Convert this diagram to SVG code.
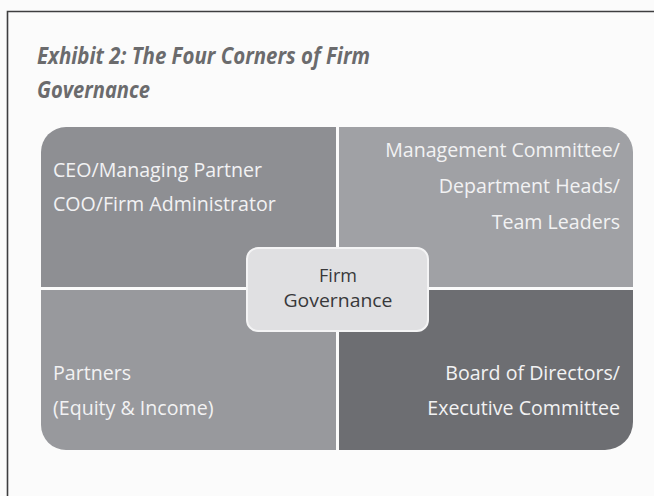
<svg xmlns="http://www.w3.org/2000/svg" width="654" height="496" viewBox="0 0 654 496">
  <style>
    .title { font-family: "Open Sans", "Liberation Sans", sans-serif; font-weight: bold; font-style: italic; font-size: 24px; fill: #6b6b6d; }
    .q { font-family: "Open Sans", "Liberation Sans", sans-serif; font-size: 19.6px; fill: #f2f2f3; }
    .r { text-anchor: end; }
    .hub { font-family: "Open Sans", "Liberation Sans", sans-serif; font-size: 18px; fill: #38383a; text-anchor: middle; }
  </style>
  <!-- page background and frame -->
  <rect x="0" y="0" width="654" height="496" fill="#fbfbfb"/>
  <path d="M7.5,496 V11.5 H654" fill="none" stroke="#3e3e40" stroke-width="1.6"/>

  <!-- heading -->
  <text class="title" x="37" y="64" textLength="333" lengthAdjust="spacingAndGlyphs">Exhibit 2: The Four Corners of Firm</text>
  <text class="title" x="37" y="98" textLength="113" lengthAdjust="spacingAndGlyphs">Governance</text>

  <!-- four quadrants -->
  <g id="ceo-coo">
    <path d="M41,287 V152 A25,25 0 0 1 66,127 H336 V287 Z" fill="#8e8f93"/>
    <text class="q" x="53" y="177">CEO/Managing Partner</text>
    <text class="q" x="53" y="211">COO/Firm Administrator</text>
  </g>
  <g id="management">
    <path d="M339,127 H608 A25,25 0 0 1 633,152 V287 H339 Z" fill="#a0a1a5"/>
    <text class="q r" x="620" y="157">Management Committee/</text>
    <text class="q r" x="620" y="193">Department Heads/</text>
    <text class="q r" x="620" y="229">Team Leaders</text>
  </g>
  <g id="partners">
    <path d="M41,290 H336 V450 H66 A25,25 0 0 1 41,425 Z" fill="#98999d"/>
    <text class="q" x="53" y="380">Partners</text>
    <text class="q" x="53" y="415">(Equity &amp; Income)</text>
  </g>
  <g id="board">
    <path d="M339,290 H633 V422 A28,28 0 0 1 605,450 H339 Z" fill="#6d6e72"/>
    <text class="q r" x="620" y="380">Board of Directors/</text>
    <text class="q r" x="620" y="415">Executive Committee</text>
  </g>

  <!-- central hub -->
  <g id="firm-governance">
    <rect x="247" y="248" width="181" height="83" rx="11" ry="11" fill="#e0e0e2" stroke="#f4f4f5" stroke-width="2"/>
    <text class="hub" x="338" y="282">Firm</text>
    <text class="hub" x="338" y="307" textLength="109" lengthAdjust="spacingAndGlyphs">Governance</text>
  </g>

  <g id="connectors"/>
</svg>
